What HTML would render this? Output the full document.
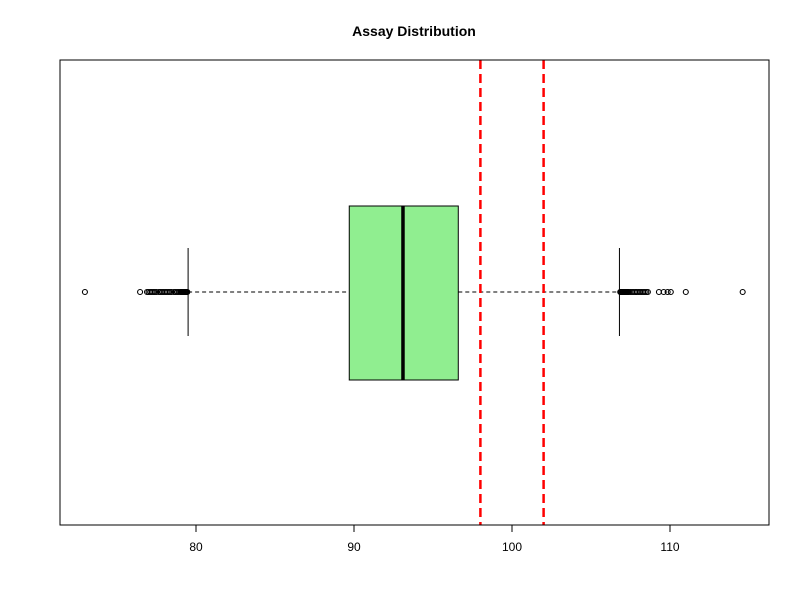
<!DOCTYPE html>
<html><head><meta charset="utf-8"><style>
body{margin:0;background:#fff;font-family:"Liberation Sans",Arial,sans-serif;}
</style></head><body>
<svg id="chart" width="800" height="600" xmlns="http://www.w3.org/2000/svg">
<rect width="800" height="600" fill="#fff"/>
<text x="414" y="36" text-anchor="middle" font-size="14" font-weight="bold" font-family="Liberation Sans, sans-serif">Assay Distribution</text>
<g id="plot"></g>
<rect x="60" y="60" width="709" height="465" fill="none" stroke="#000"/>
</svg>
<script>
const ticks=[80,90,100,110];
const stats=[79.5,89.7,93.1,96.6,106.8]; // whiskerLow,q1,median,q3,whiskerHigh
const specLimits=[98,102];
const outliers=[72.97,76.46,76.9,77.0,77.1,77.2,77.3,77.4,77.5,77.65,77.75,77.85,77.95,78.05,78.15,78.25,78.35,78.45,78.6,78.7,78.8,78.9,79.0,79.05,79.1,79.15,79.2,79.25,79.3,79.35,79.4,79.45,
106.85,106.9,106.95,107.0,107.05,107.1,107.15,107.2,107.25,107.3,107.35,107.4,107.5,107.6,107.7,107.8,107.9,108.0,108.1,108.2,108.3,108.4,108.5,108.6,109.3,109.6,109.85,110.05,111.0,114.6];
const svg=document.getElementById('plot');const NS='http://www.w3.org/2000/svg';
const x=v=>196+(v-80)*15.8;const cy=292;
function el(t,a){const e=document.createElementNS(NS,t);for(const k in a)e.setAttribute(k,a[k]);svg.appendChild(e);return e;}
ticks.forEach(t=>{
 const l=el('line',{x1:x(t),x2:x(t),y1:525,y2:532,stroke:'#000'});
 
 
 const tx=el('text',{x:x(t),y:551,'text-anchor':'middle','font-size':12});tx.textContent=t;
 
 
});
const ax=el('line',{x1:x(ticks[0]),x2:x(ticks[ticks.length-1]),y1:525,y2:525,stroke:'#000'});


const w1=el('line',{x1:x(stats[0]),x2:x(stats[1]),y1:cy,y2:cy,stroke:'#000','stroke-dasharray':'4,3'});


const w2=el('line',{x1:x(stats[3]),x2:x(stats[4]),y1:cy,y2:cy,stroke:'#000','stroke-dasharray':'4,3'});


[stats[0],stats[4]].forEach(v=>{const c=el('line',{x1:x(v),x2:x(v),y1:248,y2:336,stroke:'#000'});
 
 });
const b=el('rect',{x:x(stats[1]),y:206,width:x(stats[3])-x(stats[1]),height:174,fill:'#90ee90',stroke:'#000'});


const m=el('line',{x1:x(stats[2]),x2:x(stats[2]),y1:206,y2:380,stroke:'#000','stroke-width':3.5});


outliers.forEach(v=>{const c=el('circle',{cx:x(v),cy:cy,r:2.5,fill:'none',stroke:'#000','stroke-width':1.1});
 
 });
specLimits.forEach(v=>{const l=el('line',{x1:x(v),x2:x(v),y1:60,y2:525,stroke:'#ff0000','stroke-width':2.5,'stroke-dasharray':'9,5'});
 
 });
</script>
</body></html>
